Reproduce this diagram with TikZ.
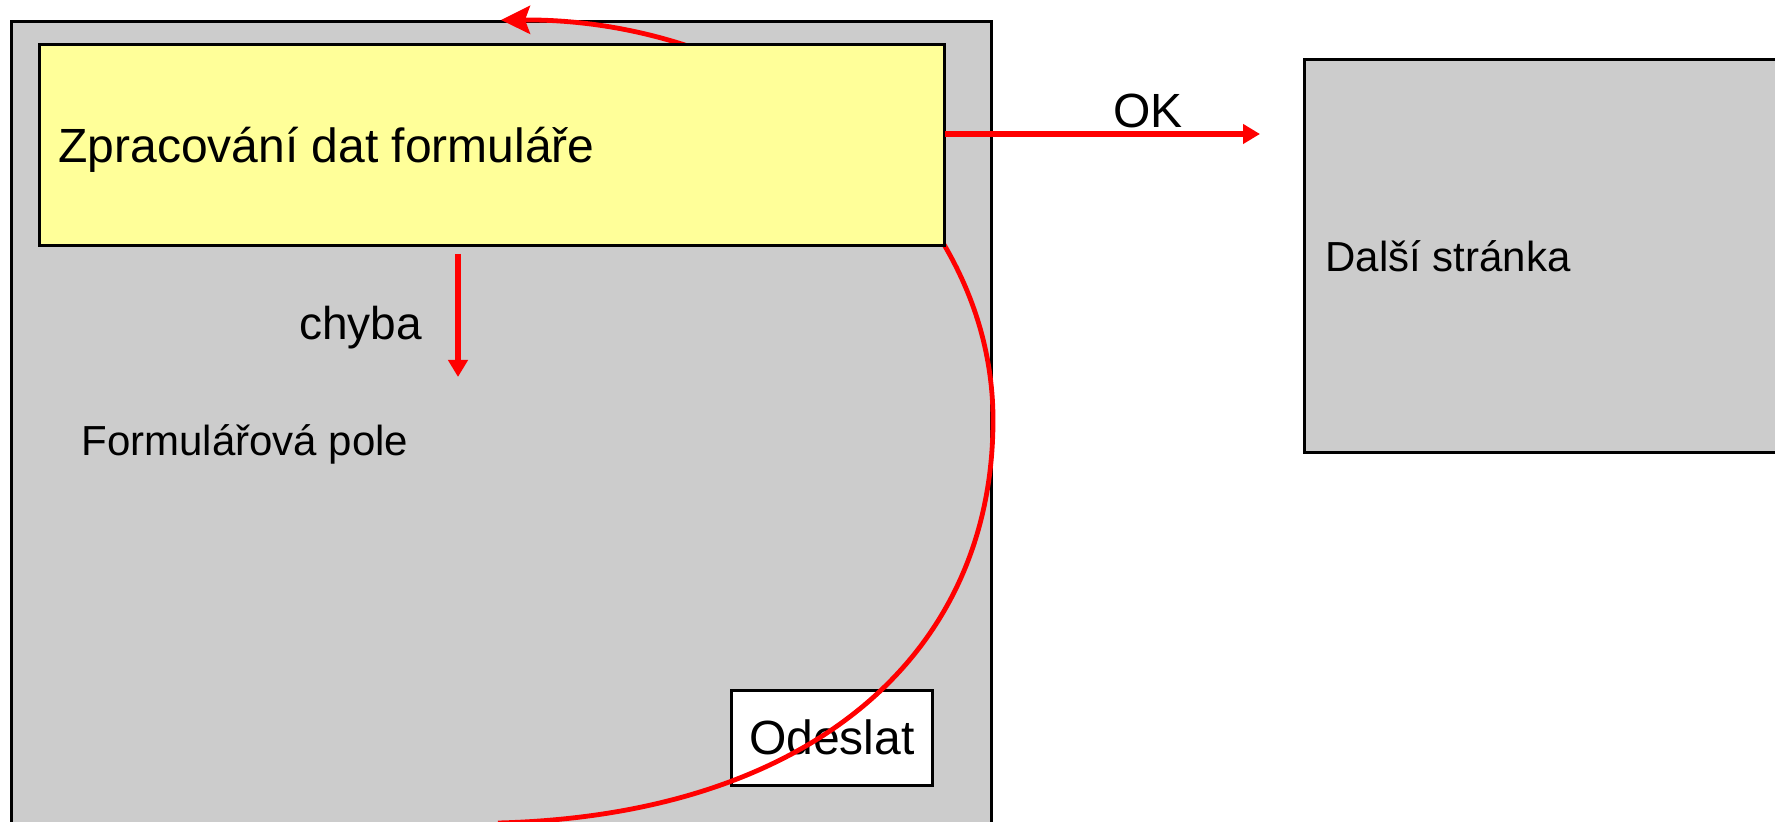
\documentclass[tikz,border=0pt]{standalone}
\usepackage{fontspec}
\setmainfont{Liberation Sans}
\usetikzlibrary{arrows.meta}
\definecolor{boxgray}{HTML}{CCCCCC}
\definecolor{procyellow}{HTML}{FFFF99}
\definecolor{flowred}{HTML}{FF0000}
\tikzset{
  panel/.style={draw=black, line width=1.3pt, fill=boxgray, rectangle, inner sep=0pt, anchor=north west},
  procbox/.style={draw=black, line width=1.4pt, fill=procyellow, rectangle, inner sep=0pt, anchor=north west},
  btnbox/.style={draw=black, line width=1.3pt, fill=white, rectangle, inner sep=0pt, anchor=north west, font=\fontsize{24pt}{28pt}\selectfont},
  lbl/.style={inner sep=0pt, anchor=base west},
  flow/.style={draw=flowred, line width=2.6pt, -{Triangle[length=8.5pt,width=9.5pt]}},
  loopflow/.style={draw=flowred, line width=2.4pt, -{Stealth[length=14.5pt,width=14pt,inset=2.5pt]}}
}
\begin{document}
\begin{tikzpicture}[x=0.5pt, y=-0.5pt]
\useasboundingbox (0,0) rectangle (1775,822);
\clip (0,0) rectangle (1775,822);
% panels
\node[panel, minimum width=490pt, minimum height=420pt] (page) at (10,20) {};
\node[panel, minimum width=260pt, minimum height=196.5pt] (next) at (1303,58) {};
\node[btnbox, minimum width=100.5pt, minimum height=47.5pt] (send) at (730,689) {Odeslat};
% loop connector (behind the yellow box)
\coordinate (loopstart) at (498,823);
\coordinate (loopright) at (993,420);
\coordinate (looptip) at (501,20);
\draw[loopflow] (loopstart) .. controls (810,815) and (993,655) .. (loopright)
  .. controls (993,199) and (773,19) .. (looptip);
% processing box
\node[procbox, minimum width=452.5pt, minimum height=100.5pt] (proc) at (38,43) {};
% labels
\node[lbl, font=\fontsize{24pt}{28pt}\selectfont] (proctext) at (58,163) {Zpracování dat formuláře};
\node[lbl, font=\fontsize{21pt}{25pt}\selectfont] (fields) at (81,456) {Formulářová pole};
\node[lbl, font=\fontsize{23pt}{27pt}\selectfont] (err) at (299,340) {chyba};
\node[lbl, font=\fontsize{24pt}{28pt}\selectfont] (ok) at (1113,128) {OK};
\node[lbl, font=\fontsize{21pt}{25pt}\selectfont] (nexttext) at (1325,272) {Další stránka};
% straight connectors
\coordinate (okstart) at (945,134);
\coordinate (okend) at (1260,134);
\draw[flow] (okstart) -- (okend);
\coordinate (errstart) at (458,254);
\coordinate (errend) at (458,377);
\draw[flow] (errstart) -- (errend);
\end{tikzpicture}
\end{document}
